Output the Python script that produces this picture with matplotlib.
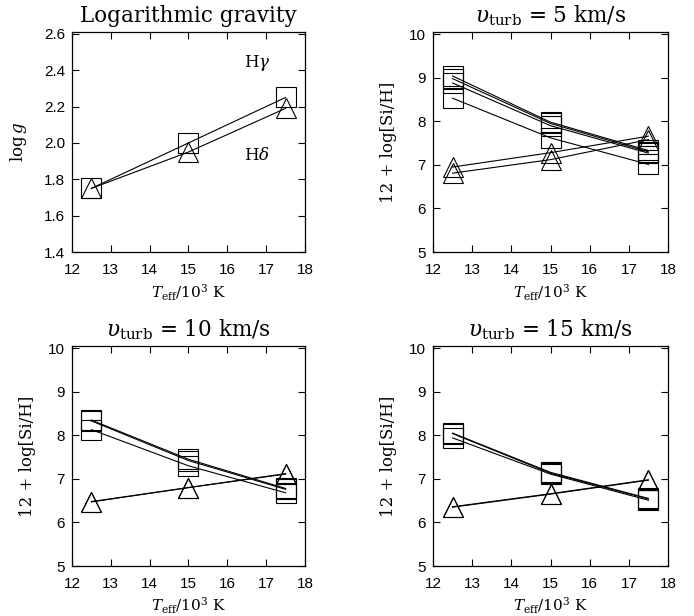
import numpy as np
import matplotlib
matplotlib.use('Agg')
import matplotlib.pyplot as plt

plt.rcParams['font.family'] = 'DejaVu Serif'
plt.rcParams['mathtext.fontset'] = 'dejavuserif'

teff = [12.5, 15.0, 17.5]

# log g panel
logg_hgamma = [1.75, 2.00, 2.25]
logg_hdelta = [1.75, 1.95, 2.19]

# Si abundances, squares = one ion, triangles = the other
si_squares_5 = [
    [9.04, 7.98, 7.33],
    [8.98, 7.95, 7.30],
    [8.88, 7.90, 7.27],
    [8.53, 7.62, 7.01],
]
si_triangles_5 = [
    [6.95, 7.28, 7.66],
    [6.81, 7.12, 7.58],
]
si_squares_10 = [
    [8.35, 7.45, 6.78],
    [8.33, 7.42, 6.76],
    [8.13, 7.30, 6.68],
]
si_triangles_10 = [
    [6.48, 6.80, 7.12],
    [6.47, 6.80, 7.11],
]
si_squares_15 = [
    [8.05, 7.15, 6.55],
    [8.04, 7.13, 6.54],
    [7.94, 7.11, 6.51],
]
si_triangles_15 = [
    [6.36, 6.66, 6.98],
    [6.35, 6.65, 6.97],
]

W, H = 694, 616
fig = plt.figure(figsize=(W / 100, H / 100), dpi=100)


def make_axes(l, r, t, b):
    return fig.add_axes([l / W, 1 - b / H, (r - l) / W, (b - t) / H])


def style(ax, ylim, yticks, ylab_x, xlab_y):
    ax.set_xlim(12, 18)
    ax.set_ylim(*ylim)
    ax.set_xticks(range(12, 19))
    ax.set_yticks(yticks)
    ax.tick_params(direction='in', top=True, right=True, length=5, width=0.8,
                   labelsize=11, pad=8)
    ax.tick_params(axis='y', pad=5)
    for lab in ax.get_xticklabels() + ax.get_yticklabels():
        lab.set_family('Liberation Sans')
    for s in ax.spines.values():
        s.set_linewidth(0.9)
    ax.set_xlabel(r'$T_{\rm eff}/10^3$ K', fontsize=11, va='center')
    ax.xaxis.set_label_coords(0.5, xlab_y)
    ax.yaxis.set_label_coords(ylab_x, 0.5)


def draw(ax, series, marker):
    for ys in series:
        ax.plot(teff, ys, color='black', lw=0.8, marker=marker, ms=15,
                mfc='none', mec='black', mew=0.8)


# panel 1
ax1 = make_axes(72, 305, 32, 252)
draw(ax1, [logg_hgamma], 's')
draw(ax1, [logg_hdelta], '^')
style(ax1, (1.4, 2.61), np.arange(1.4, 2.61, 0.2), -0.23, -0.185)
ax1.set_yticklabels(['%.1f' % v for v in np.arange(1.4, 2.61, 0.2)], family='Liberation Sans')
ax1.set_ylabel(r'$\log g$', fontsize=12, va='center')
ax1.set_title('Logarithmic gravity', fontsize=15.5, pad=7)
ax1.text(16.76, 2.44, r'H$\gamma$', ha='center', va='center', fontsize=12)
ax1.text(16.76, 1.93, r'H$\delta$', ha='center', va='center', fontsize=12)

panels = [
    ((433, 668, 32, 252), si_squares_5, si_triangles_5, '5', -0.185),
    ((72, 305, 346, 566), si_squares_10, si_triangles_10, '10', -0.18),
    ((433, 668, 346, 566), si_squares_15, si_triangles_15, '15', -0.18),
]
for (l, r, t, b), sq, tr, v, xly in panels:
    ax = make_axes(l, r, t, b)
    draw(ax, sq, 's')
    draw(ax, tr, '^')
    style(ax, (5, 10.05), range(5, 11), -0.19, xly)
    ax.set_ylabel('12 + log[Si/H]', fontsize=12, va='center')
    ax.set_title(r'$\upsilon_{\rm turb}$ = ' + v + ' km/s', fontsize=15.5, pad=7)

fig.savefig('out.png', dpi=100)
